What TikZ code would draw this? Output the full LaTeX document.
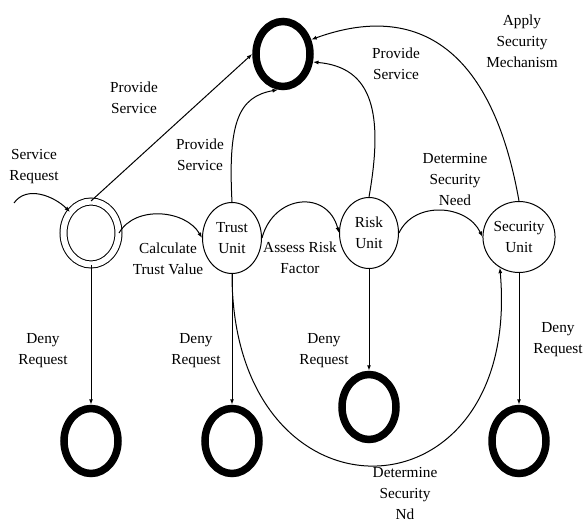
\documentclass[tikz,border=0pt]{standalone}
\usepackage{fontspec}
\setmainfont{Liberation Serif}
\usetikzlibrary{shapes.geometric, arrows.meta}

\begin{document}
\begin{tikzpicture}[
x=1pt, y=1pt,
font=\fontsize{15.3}{21}\selectfont,
initial/.style={ellipse, draw=black, double, double distance=6pt, line width=1pt, minimum width=55pt, minimum height=63pt, inner sep=0pt},
unit/.style={ellipse, draw=black, line width=1pt, minimum width=59pt, minimum height=71pt, inner sep=0pt, align=center},
final/.style={ellipse, draw=black, line width=7.5pt, minimum width=54pt, minimum height=65pt, inner sep=0pt},
lbl/.style={align=center, inner sep=0pt},
trans/.style={-{Latex[length=5.5pt, width=4pt]}, line width=1pt},
]
\useasboundingbox (0,0) rectangle (584,523);

\node[final] (F) at (283,469) {};
\node[initial] (I) at (91,290) {};
\node[unit] (T) at (232,285) {Trust\\Unit};
\node[unit] (R) at (369,290) {Risk\\Unit};
\node[unit] (S) at (519,286) {Security\\Unit};
\node[final] (D1) at (91,82) {};
\node[final] (D2) at (232,82) {};
\node[final] (D3) at (369,116) {};
\node[final] (D4) at (519,82) {};

\coordinate (in) at (14,320);
\draw[trans] (in) to[out=55, in=135] (I.135);
\node[lbl] (Lin) at (34,356) {Service\\Request};

\draw[trans] (I.north) -- (F.west);
\node[lbl] (Lp1) at (134,425) {Provide\\Service};

\draw[trans] (I.east) to[out=60, in=120] (T.west);
\node[lbl] (Lc) at (168,264) {Calculate\\Trust Value};

\draw[trans] (T.east) to[out=75, in=105, looseness=1.5] (R.west);
\node[lbl] (La) at (300,265) {Assess Risk\\Factor};

\draw[trans] (R.east) to[out=65, in=115, looseness=1.1] (S.west);
\node[lbl] (Ln) at (455,343) {Determine\\Security\\Need};

\draw[trans] (T.north) .. controls +(93:80) and +(190:40) .. (F.-98);
\node[lbl] (Lp2) at (200,368) {Provide\\Service};

\draw[trans] (R.north) .. controls +(80:85) and +(-5:60) .. (F.-15);
\node[lbl] (Lp3) at (396,459) {Provide\\Service};

\draw[trans] (S.north) .. controls +(100:170) and +(20:100) .. (F.27);
\node[lbl] (Lm) at (522,482) {Apply\\Security\\Mechanism};

\draw[trans] (T.south) .. controls +(0,-260) and +(-85:260) .. (S.238);
\node[lbl] (Ld) at (405,29) {Determine\\Security\\Nd};

\draw[trans] (I.south) -- (D1.north);
\draw[trans] (T.south) -- (D2.north);
\draw[trans] (R.south) -- (D3.north);
\draw[trans] (S.south) -- (D4.north);
\node[lbl] (L1) at (43,172) {Deny\\Request};
\node[lbl] (L2) at (196,172) {Deny\\Request};
\node[lbl] (L3) at (324,172) {Deny\\Request};
\node[lbl] (L4) at (558,183) {Deny\\Request};
\end{tikzpicture}
\end{document}
